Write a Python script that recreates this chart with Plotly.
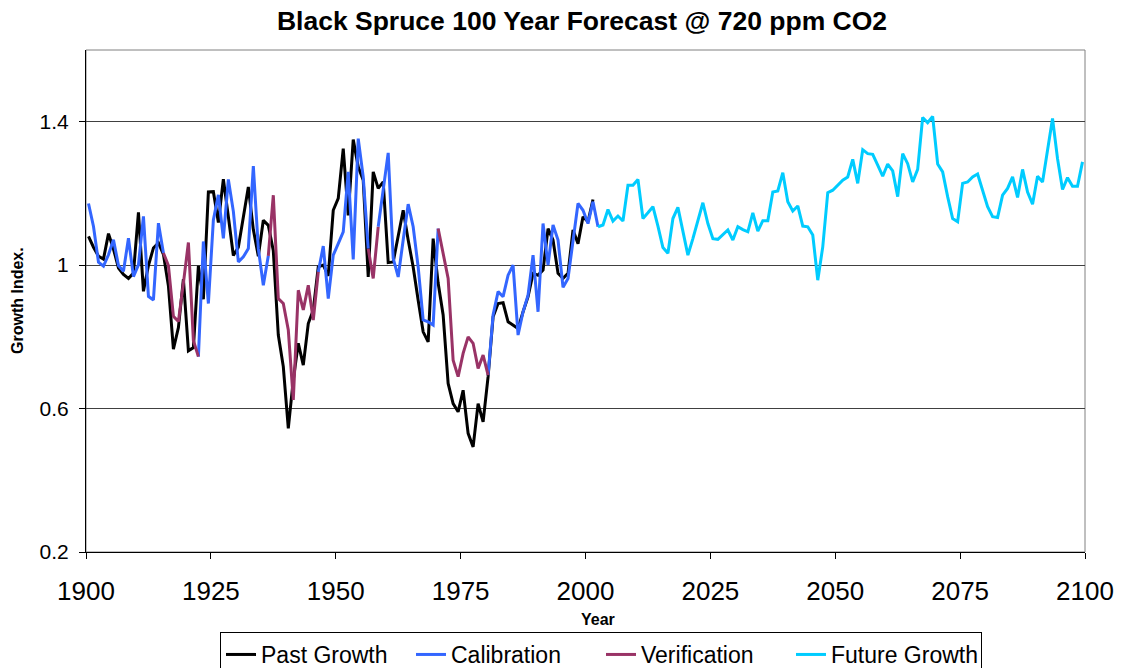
import plotly.graph_objects as go

# Annual growth index, observed ring-width chronology (1900-2001)
past_years = list(range(1900, 2002))
past_growth = [
    1.080, 1.050, 1.025, 1.017, 1.088, 1.045, 0.992, 0.974, 0.963, 0.978,
    1.147, 0.927, 0.999, 1.048, 1.062, 1.030, 0.942, 0.766, 0.826, 0.961,
    0.761, 0.770, 0.998, 0.905, 1.204, 1.205, 1.119, 1.240, 1.135, 1.027,
    1.050, 1.128, 1.218, 1.099, 1.025, 1.125, 1.111, 1.040, 0.805, 0.717,
    0.545, 0.680, 0.782, 0.721, 0.837, 0.875, 0.995, 1.000, 0.970, 1.153,
    1.186, 1.325, 1.139, 1.350, 1.274, 1.237, 0.967, 1.260, 1.214, 1.232,
    1.007, 1.009, 1.080, 1.153, 1.070, 0.995, 0.902, 0.814, 0.786, 1.074,
    0.950, 0.861, 0.670, 0.614, 0.591, 0.651, 0.531, 0.493, 0.614, 0.563,
    0.689, 0.856, 0.893, 0.895, 0.842, 0.833, 0.823, 0.870, 0.912, 0.977,
    0.972, 0.986, 1.102, 1.070, 0.977, 0.963, 0.977, 1.098, 1.060, 1.135,
    1.121, 1.183,
]

# Modelled growth index (1900-2002); split into calibration / verification periods
model_years = list(range(1900, 2003))
model_growth = [
    1.172, 1.108, 1.008, 0.997, 1.029, 1.071, 0.999, 0.983, 1.075, 0.968,
    1.001, 1.136, 0.913, 0.903, 1.117, 1.034, 0.999, 0.857, 0.843, 0.950,
    1.063, 0.790, 0.745, 1.066, 0.893, 1.126, 1.196, 1.075, 1.239, 1.150,
    1.009, 1.023, 1.046, 1.276, 1.046, 0.944, 1.026, 1.195, 0.907, 0.893,
    0.819, 0.624, 0.930, 0.875, 0.944, 0.847, 0.981, 1.053, 0.907, 1.028,
    1.060, 1.093, 1.260, 1.016, 1.353, 1.246, 1.046, 0.963, 1.107, 1.210,
    1.313, 1.019, 0.967, 1.070, 1.170, 1.107, 0.995, 0.847, 0.842, 0.833,
    1.102, 1.033, 0.963, 0.735, 0.689, 0.754, 0.800, 0.782, 0.712, 0.749,
    0.693, 0.861, 0.926, 0.912, 0.972, 1.000, 0.805, 0.870, 0.916, 1.028,
    0.870, 1.116, 1.000, 1.112, 1.070, 0.938, 0.963, 1.065, 1.172, 1.153,
    1.116, 1.177, 1.107,
]
verification_periods = [(1915, 1922), (1936, 1946), (1956, 1958), (1970, 1980)]

# Forecast growth index at 720 ppm CO2 (2002-2099)
future_years = list(range(2002, 2100))
future_growth = [
    1.107, 1.112, 1.155, 1.123, 1.137, 1.123, 1.223, 1.223, 1.239, 1.130,
    1.146, 1.163, 1.109, 1.049, 1.033, 1.130, 1.161, 1.098, 1.028, 1.074,
    1.121, 1.174, 1.116, 1.074, 1.072, 1.084, 1.098, 1.070, 1.107, 1.099,
    1.093, 1.146, 1.095, 1.124, 1.124, 1.204, 1.207, 1.258, 1.177, 1.151,
    1.165, 1.109, 1.107, 1.084, 0.958, 1.051, 1.202, 1.209, 1.223, 1.237,
    1.246, 1.295, 1.228, 1.322, 1.311, 1.309, 1.279, 1.248, 1.282, 1.263,
    1.191, 1.311, 1.283, 1.232, 1.267, 1.412, 1.397, 1.415, 1.282, 1.260,
    1.191, 1.130, 1.121, 1.228, 1.232, 1.246, 1.254, 1.209, 1.163, 1.135,
    1.133, 1.195, 1.214, 1.246, 1.189, 1.267, 1.204, 1.170, 1.248, 1.232,
    1.316, 1.409, 1.297, 1.211, 1.244, 1.220, 1.220, 1.288,
]

x_ticks = [1900, 1925, 1950, 1975, 2000, 2025, 2050, 2075, 2100]
y_ticks = [0.2, 0.6, 1.0, 1.4]
y_tick_text = ["0.2", "0.6", "1", "1.4"]


def mid_year(years):
    # annual values are plotted at the middle of each year
    return [y + 0.5 for y in years]


def in_verification(year, inclusive):
    for a, b in verification_periods:
        if (a <= year <= b) if inclusive else (a < year < b):
            return True
    return False


calibration = [None if in_verification(y, False) else v
               for y, v in zip(model_years, model_growth)]
verification = [v if in_verification(y, True) else None
                for y, v in zip(model_years, model_growth)]

FONT = "Liberation Sans, Arial, sans-serif"
W, H = 1123, 668
L, R, T, B = 86, 38, 50, 116
plot_w, plot_h = W - L - R, H - T - B

fig = go.Figure()
fig.add_trace(go.Scatter(x=mid_year(past_years), y=past_growth, mode="lines",
                         name="Past Growth", line=dict(color="#000000", width=3)))
fig.add_trace(go.Scatter(x=mid_year(model_years), y=calibration, mode="lines",
                         name="Calibration", connectgaps=False,
                         line=dict(color="#3366FF", width=3)))
fig.add_trace(go.Scatter(x=mid_year(model_years), y=verification, mode="lines",
                         name="Verification", connectgaps=False,
                         line=dict(color="#993366", width=3)))
fig.add_trace(go.Scatter(x=mid_year(future_years), y=future_growth, mode="lines",
                         name="Future Growth", line=dict(color="#00CCFF", width=3)))

fig.update_layout(
    width=W, height=H,
    margin=dict(l=L, r=R, t=T, b=B, autoexpand=False),
    paper_bgcolor="white", plot_bgcolor="white",
    font=dict(family=FONT, color="black"),
    title=dict(text="<b>Black Spruce 100 Year Forecast @ 720 ppm CO2</b>",
               font=dict(size=26.5, family=FONT, color="black"),
               x=582 / W, xanchor="center", xref="container",
               y=1 - 21 / H, yanchor="middle", yref="container"),
    showlegend=True,
    legend=dict(orientation="h", x=601 / W, xanchor="center", xref="container",
                y=1 - 632 / H, yanchor="top", yref="container",
                font=dict(size=23, family=FONT, color="black"),
                bordercolor="black", borderwidth=1, bgcolor="white",
                entrywidth=145, entrywidthmode="pixels",
                traceorder="normal"),
    shapes=[dict(type="rect", xref="paper", yref="paper", x0=0, x1=1, y0=0, y1=1,
                 line=dict(color="#808080", width=1), layer="below")],
    annotations=[
        dict(text="<b>Growth Index.</b>", textangle=-90, xref="paper", yref="paper",
             x=(17 - L) / plot_w, y=0.5, xanchor="center", yanchor="middle",
             showarrow=False, font=dict(size=16, family=FONT, color="black")),
        dict(text="<b>Year</b>", xref="paper", yref="paper",
             x=(598 - L) / plot_w, y=(H - B - 620) / plot_h,
             xanchor="center", yanchor="middle",
             showarrow=False, font=dict(size=16, family=FONT, color="black")),
    ],
)

fig.update_xaxes(range=[1900, 2100], tickmode="array", tickvals=x_ticks,
                 ticks="outside", ticklen=6, tickcolor="black", tickwidth=1,
                 showline=True, linecolor="black", linewidth=1, showgrid=False,
                 zeroline=False, ticklabelstandoff=10, automargin=False,
                 tickfont=dict(size=26, family=FONT, color="black"))
fig.update_yaxes(range=[0.2, 1.6], tickmode="array", tickvals=y_ticks,
                 ticktext=y_tick_text, ticks="outside", ticklen=6,
                 tickcolor="black", tickwidth=1, showline=True, linecolor="black",
                 linewidth=1, showgrid=True, gridcolor="#404040", gridwidth=1,
                 zeroline=False, ticklabelstandoff=6, automargin=False,
                 tickfont=dict(size=21, family=FONT, color="black"))

fig.write_html("out.html")
